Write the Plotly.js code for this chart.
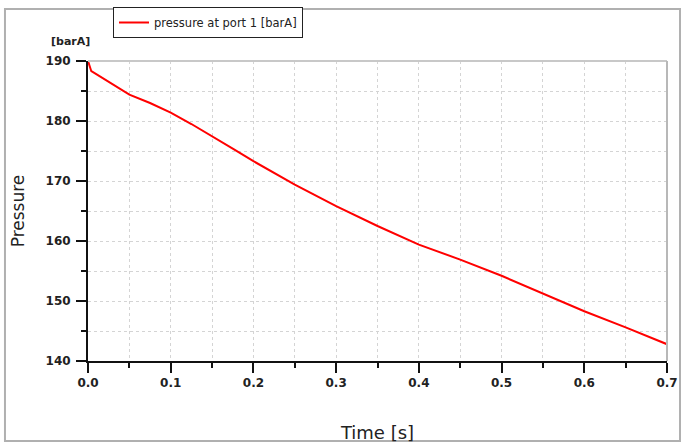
<!DOCTYPE html>
<html>
<head>
<meta charset="utf-8">
<script src="https://cdn.plot.ly/plotly-3.0.1.min.js"></script>
<style>html,body{margin:0;padding:0;background:#fff;}#chart{width:681px;height:445px;}</style>
</head>
<body>
<div id="chart"></div>
<script>
const time = [0, 0.002, 0.004, 0.01, 0.025, 0.05, 0.075, 0.1, 0.125, 0.15, 0.175, 0.2, 0.25, 0.3, 0.35, 0.4, 0.45, 0.5, 0.55, 0.6, 0.65, 0.7];
const pressure = [190, 188.9, 188.3, 187.8, 186.5, 184.4, 183.0, 181.4, 179.5, 177.5, 175.4, 173.3, 169.4, 165.8, 162.5, 159.4, 156.9, 154.2, 151.3, 148.3, 145.6, 142.8];
const seriesName = 'pressure at port 1 [barA]';
const unitLabel = '[barA]';
const xTitle = 'Time [s]';
const yTitle = 'Pressure';

const tickFont = {family: 'DejaVu Sans', size: 12, color: '#222', weight: 'bold'};
const gridStyle = {gridcolor: '#d4d4d4', griddash: 'dot', gridwidth: 1};

const trace = {
  x: time, y: pressure, type: 'scatter', mode: 'lines', name: seriesName,
  line: {color: '#ff0000', width: 2}, showlegend: true
};

const layout = {
  width: 681, height: 445,
  margin: {l: 88, r: 14, t: 61, b: 84, autoexpand: false},
  paper_bgcolor: '#fff', plot_bgcolor: '#fff',
  font: {family: 'DejaVu Sans', color: '#222'},
  showlegend: true,
  legend: {
    x: 0.0432, y: 1.18, xanchor: 'left', yanchor: 'top',
    bgcolor: '#fff', bordercolor: '#222', borderwidth: 1,
    font: {family: 'DejaVu Sans', size: 11.5, color: '#222'}
  },
  xaxis: Object.assign({
    range: [0, 0.7], dtick: 0.1, tick0: 0, tickformat: '.1f', automargin: false,
    ticks: 'outside', ticklen: 10, tickwidth: 2, tickcolor: '#111',
    showline: true, linecolor: '#111', linewidth: 2,
    showgrid: true, zeroline: false, tickfont: tickFont,
    minor: Object.assign({dtick: 0.05, ticks: 'outside', ticklen: 5, tickwidth: 2, tickcolor: '#111', showgrid: true}, gridStyle),
    title: {text: xTitle, font: {family: 'DejaVu Sans', size: 18, color: '#222'}, standoff: 37}
  }, gridStyle),
  yaxis: Object.assign({
    range: [140, 190], dtick: 10, tick0: 140, automargin: false,
    ticks: 'outside', ticklen: 10, tickwidth: 2, tickcolor: '#111', ticklabelstandoff: 3,
    showline: true, linecolor: '#111', linewidth: 2,
    showgrid: true, zeroline: false, tickfont: tickFont,
    minor: Object.assign({dtick: 5, ticks: 'outside', ticklen: 5, tickwidth: 2, tickcolor: '#111', showgrid: true}, gridStyle),
    title: {text: yTitle, font: {family: 'DejaVu Sans', size: 17, color: '#222'}, standoff: 17}
  }, gridStyle),
  annotations: [{
    text: unitLabel, xref: 'paper', yref: 'paper', x: -0.0674, y: 1.064,
    xanchor: 'left', yanchor: 'middle', showarrow: false,
    font: {family: 'DejaVu Sans', size: 11, color: '#222', weight: 'bold'}
  }],
  shapes: [
    {type: 'rect', xref: 'paper', yref: 'paper', x0: -0.1434, x1: 1.0225, y0: -0.2667, y1: 1.1733,
     line: {color: '#b0b0b0', width: 2}, fillcolor: 'rgba(0,0,0,0)', layer: 'below'},
    {type: 'line', xref: 'paper', yref: 'paper', x0: 0, x1: 1, y0: 1, y1: 1, line: {color: '#c8c8c8', width: 2}},
    {type: 'line', xref: 'paper', yref: 'paper', x0: 1, x1: 1, y0: 0, y1: 1, line: {color: '#b8b8b8', width: 2}}
  ]
};

Plotly.newPlot('chart', [trace], layout, {displayModeBar: false, staticPlot: true});
</script>
</body>
</html>
